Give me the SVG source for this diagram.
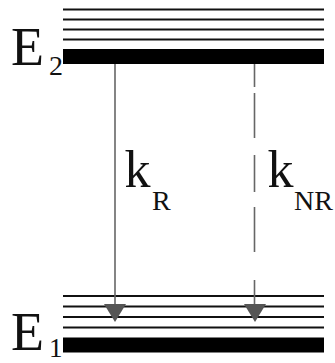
<svg xmlns="http://www.w3.org/2000/svg" width="335" height="363" viewBox="0 0 335 363">
  <style>
    .thin { stroke: #111; stroke-width: 2; fill: none; }
    .bar { fill: #000; }
    .lbl { font-family: 'Liberation Serif', 'Times New Roman', Times, 'DejaVu Serif', serif; fill: #111; }
    .conn { stroke: #666; stroke-width: 1.6; fill: none; }
    .head { fill: #555; }
  </style>
  <g id="level-E2">
    <line class="thin" x1="63" y1="9.5" x2="324" y2="9.5"/>
    <line class="thin" x1="63" y1="19.5" x2="324" y2="19.5"/>
    <line class="thin" x1="63" y1="29.5" x2="324" y2="29.5"/>
    <line class="thin" x1="63" y1="39.5" x2="324" y2="39.5"/>
    <rect class="bar" x="63" y="49" width="261" height="15"/>
    <text class="lbl" x="11" y="65" font-size="54">E<tspan x="49" y="75" font-size="28">2</tspan></text>
  </g>
  <g id="level-E1">
    <line class="thin" x1="63" y1="296" x2="324" y2="296"/>
    <line class="thin" x1="63" y1="306.5" x2="324" y2="306.5"/>
    <line class="thin" x1="63" y1="317" x2="324" y2="317"/>
    <line class="thin" x1="63" y1="327.5" x2="324" y2="327.5"/>
    <rect class="bar" x="63" y="337.5" width="261" height="15"/>
    <text class="lbl" x="11" y="350" font-size="54">E<tspan x="49" y="357" font-size="27">1</tspan></text>
  </g>
  <g id="connectors">
    <g id="kR">
      <line class="conn" x1="115" y1="64" x2="115" y2="306"/>
      <path class="head" d="M104,304 L126,304 L115,322 Z"/>
      <text class="lbl" x="124.5" y="187" font-size="52">k<tspan x="152" y="210" font-size="28">R</tspan></text>
    </g>
    <g id="kNR">
      <path class="conn" d="M254.5,64 V87 M254.5,93 V138 M254.5,155 V192 M254.5,207 V252 M254.5,280 V306"/>
      <path class="head" d="M244,304 L266,304 L255,322 Z"/>
      <text class="lbl" x="267.5" y="187" font-size="52">k<tspan x="294" y="210" font-size="28">NR</tspan></text>
    </g>
  </g>
</svg>
